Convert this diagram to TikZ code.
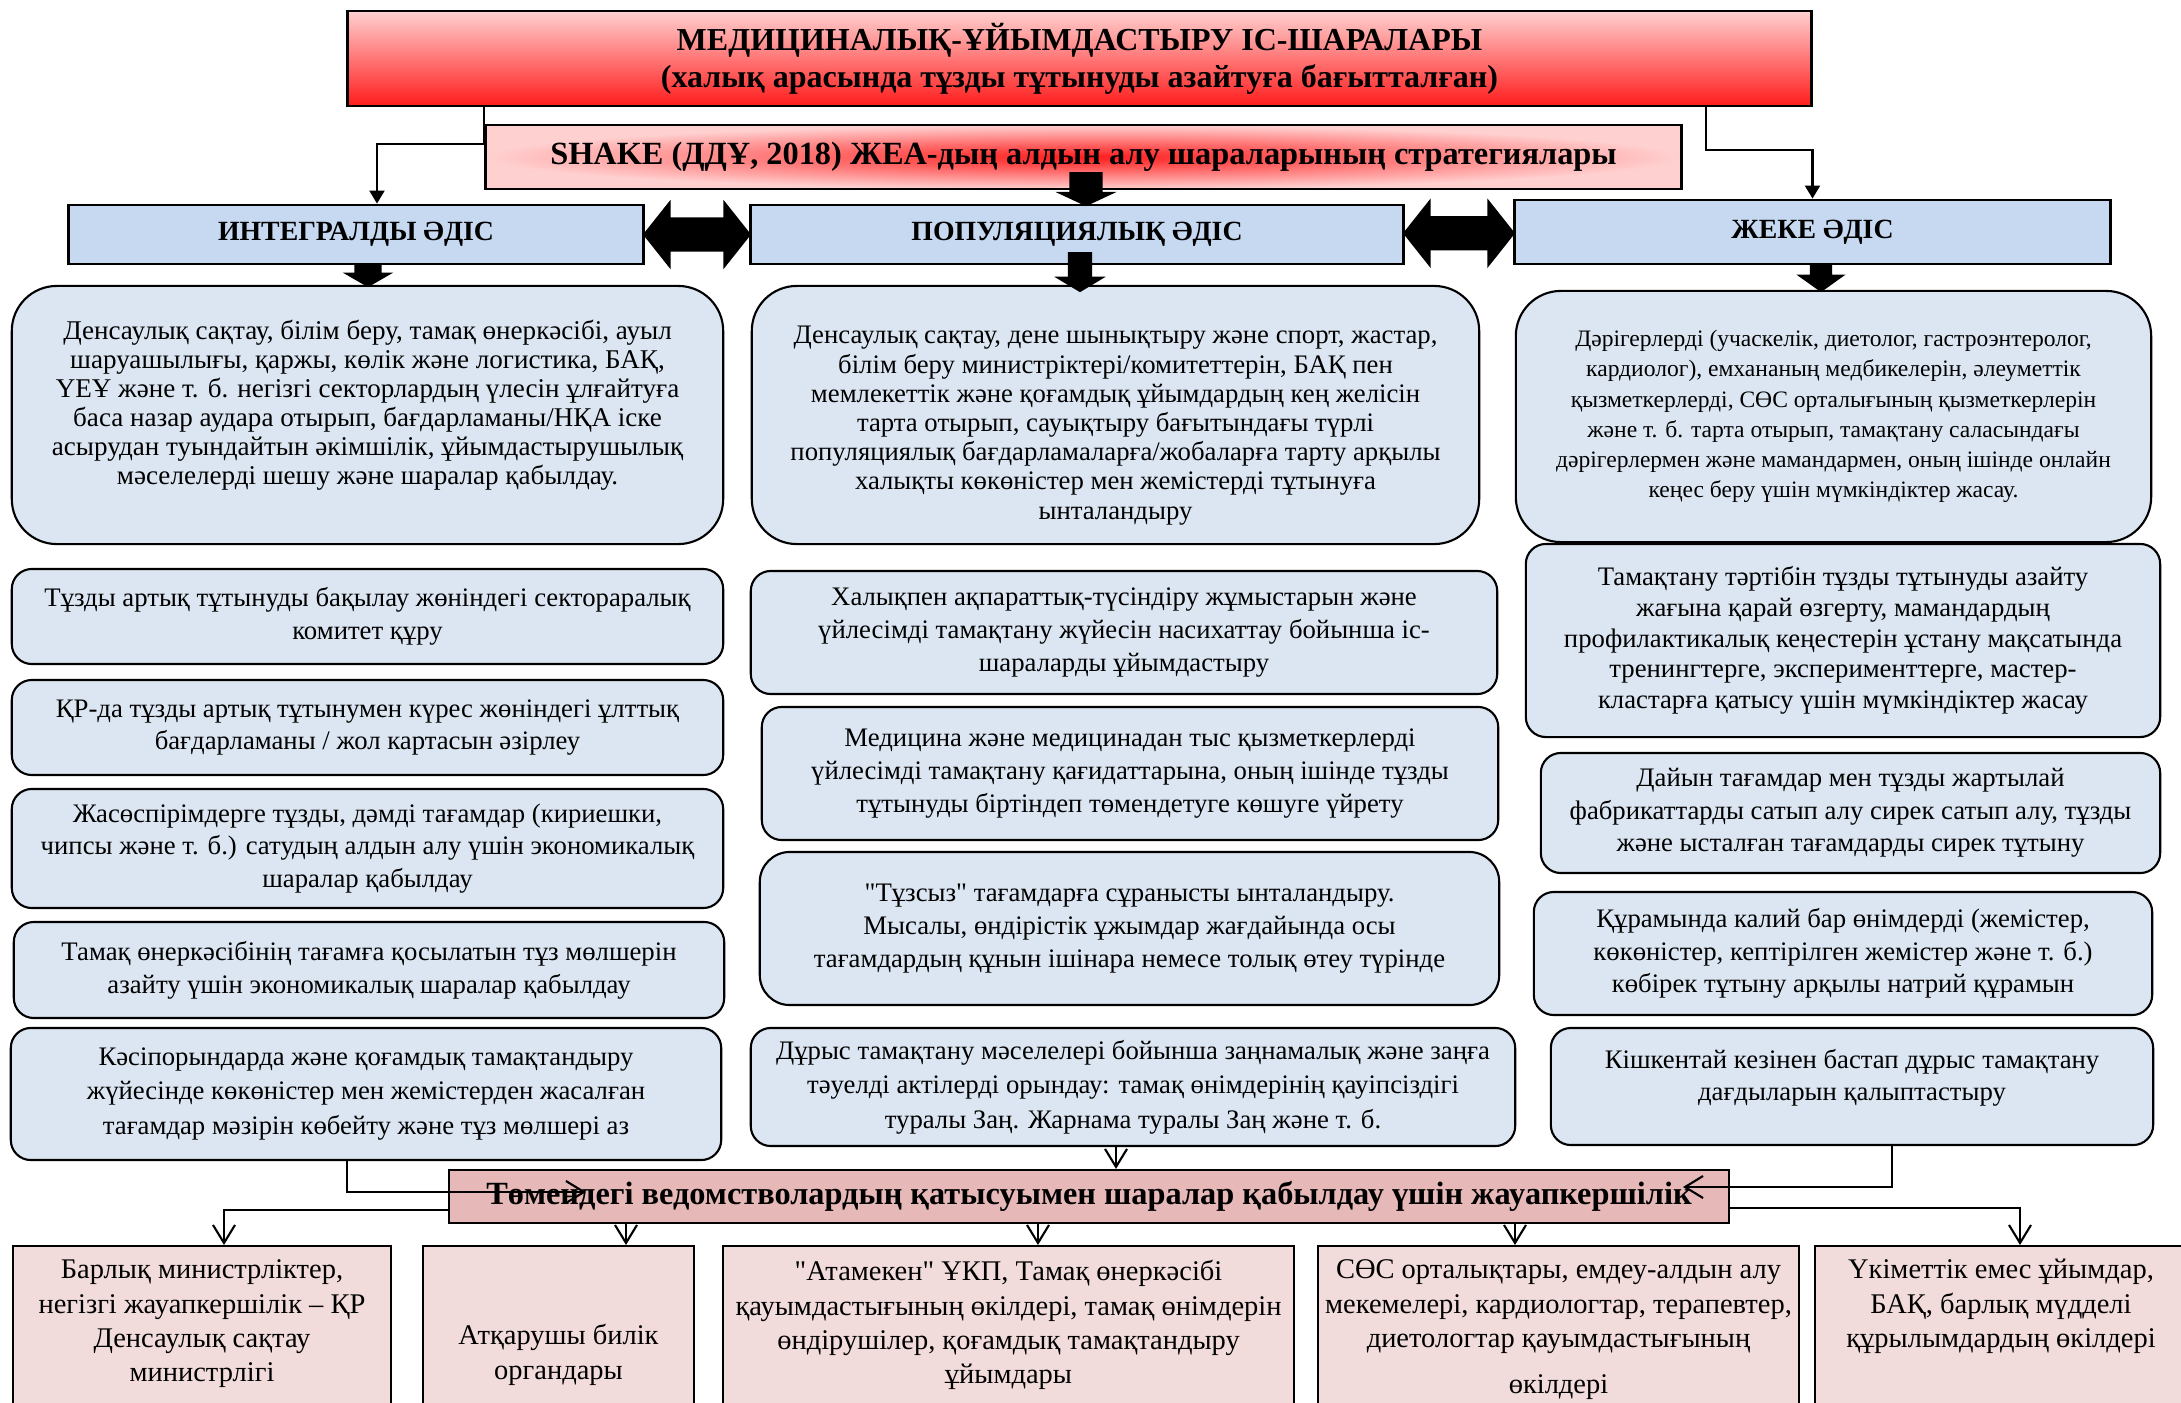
\documentclass[tikz,border=0pt]{standalone}
\usepackage{fontspec}
\setmainfont{Liberation Serif}[Ligatures=TeXOff]
\usepackage{xcolor}
\usepackage{tikz}
\usetikzlibrary{arrows.meta,shapes.arrows,calc}
\definecolor{methodblue}{RGB}{198,217,241}
\definecolor{boxblue}{RGB}{220,230,242}
\definecolor{resppink}{RGB}{230,184,183}
\definecolor{orgpink}{RGB}{242,220,219}
\definecolor{toppink}{RGB}{255,208,208}
\definecolor{topmid}{RGB}{255,165,165}
\definecolor{topred}{RGB}{255,28,28}
% width, height, first baseline, text
\newcommand{\boxtext}[4]{\parbox[t][#2][t]{#1}{\centering\rule{0pt}{#3}#4}}

\begin{document}
\begin{tikzpicture}[x=0.01cm, y=-0.01cm,
  boxsize/.style 2 args={minimum width=#1cm, minimum height=#2cm},
  topbox/.style={draw, line width=0.8pt, top color=toppink, middle color=topmid,
    bottom color=topred, align=center, inner sep=0pt,
    font=\bfseries\fontsize{9.1}{10.5}\selectfont},
  shakebox/.style={draw, line width=0.8pt, inner color=topred, outer color=toppink,
    inner sep=0pt, font=\bfseries\fontsize{9.2}{11}\selectfont},
  methodbox/.style={draw, line width=0.8pt, fill=methodblue, inner sep=0pt,
    font=\bfseries\fontsize{7.9}{9.5}\selectfont},
  infobox/.style={draw, line width=0.6pt, fill=boxblue, rounded corners=0.2cm,
    align=center, inner sep=0pt, font=\fontsize{7.6}{9.3}\selectfont},
  bigbox/.style={infobox, rounded corners=0.45cm},
  respbox/.style={draw, line width=0.6pt, fill=resppink, inner sep=0pt,
    font=\bfseries\fontsize{9.2}{11}\selectfont},
  orgbox/.style={draw, line width=0.5pt, fill=orgpink, anchor=north, inner sep=0pt,
    font=\fontsize{8.1}{9.7}\selectfont},
  link/.style={line width=0.6pt, -{Triangle[length=1.3mm, width=1.5mm]}},
  barb/.style={line width=0.6pt, -{Straight Barb[length=1.8mm, width=2.2mm]}},
  blockdown/.style={single arrow, fill=black, draw=none, rotate=-90, inner xsep=0pt,
    anchor=tip},
  twoway/.style={double arrow, fill=black, draw=none, inner xsep=0pt, inner ysep=0.165cm,
    double arrow head extend=0.175cm, double arrow tip angle=103}
]
  \useasboundingbox (0,0) rectangle (2181,1403);
  \clip (0,0) rectangle (2181,1403);

  % Title and strategy
  \node[topbox, boxsize={14.63}{0.95}] (top) at (1079.5,58.5)
    {МЕДИЦИНАЛЫҚ-ҰЙЫМДАСТЫРУ ІС-ШАРАЛАРЫ\\(халық арасында тұзды тұтынуды азайтуға бағытталған)};
  \node[shakebox, boxsize={11.95}{0.64}] (shake) at (1083.5,157)
    {SHAKE (ДДҰ, 2018) ЖЕА-дың алдын алу шараларының стратегиялары};

  % Methods
  \node[methodbox, boxsize={5.74}{0.59}] (integ) at (356,234.5) {ИНТЕГРАЛДЫ ӘДІС};
  \node[methodbox, boxsize={6.52}{0.59}] (popul) at (1077,234.5) {ПОПУЛЯЦИЯЛЫҚ ӘДІС};
  \node[methodbox, boxsize={5.95}{0.64}] (jeke) at (1812.5,232) {ЖЕКЕ ӘДІС};

  % Main boxes under the methods
  \node[bigbox, boxsize={7.11}{2.58}, font=\fontsize{7.7}{8.2}\selectfont] (L1) at (367.5,415)
    {\boxtext{7.0cm}{2.58cm}{0.54cm}{Денсаулық сақтау, білім беру, тамақ өнеркәсібі, ауыл\\
     шаруашылығы, қаржы, көлік және логистика, БАҚ,\\
     ҮЕҰ және т. б. негізгі секторлардың үлесін ұлғайтуға\\
     баса назар аудара отырып, бағдарламаны/НҚА іске\\
     асырудан туындайтын әкімшілік, ұйымдастырушылық\\
     мәселелерді шешу және шаралар қабылдау.}};
  \node[bigbox, boxsize={7.27}{2.58}, font=\fontsize{7.6}{8.3}\selectfont] (M1) at (1115.5,415)
    {\boxtext{7.1cm}{2.58cm}{0.58cm}{Денсаулық сақтау, дене шынықтыру және спорт, жастар,\\
     білім беру министріктері/комитеттерін, БАҚ пен\\
     мемлекеттік және қоғамдық ұйымдардың кең желісін\\
     тарта отырып, сауықтыру бағытындағы түрлі\\
     популяциялық бағдарламаларға/жобаларға тарту арқылы\\
     халықты көкөністер мен жемістерді тұтынуға\\
     ынталандыру}};
  \node[bigbox, boxsize={6.35}{2.51}, font=\fontsize{6.7}{8.6}\selectfont] (R1) at (1833.5,416.5)
    {Дәрігерлерді (учаскелік, диетолог, гастроэнтеролог,\\
     кардиолог), емхананың медбикелерін, әлеуметтік\\
     қызметкерлерді, СӨС орталығының қызметкерлерін\\
     және т. б. тарта отырып, тамақтану саласындағы\\
     дәрігерлермен және мамандармен, оның ішінде онлайн\\
     кеңес беру үшін мүмкіндіктер жасау.};

  % Integrated measures
  \node[infobox, boxsize={7.11}{0.95}] (L2) at (367.5,616.5)
    {Тұзды артық тұтынуды бақылау жөніндегі сектораралық\\ комитет құру};
  \node[infobox, boxsize={7.11}{0.95}] (L3) at (367.5,727.5)
    {ҚР-да тұзды артық тұтынумен күрес жөніндегі ұлттық\\ бағдарламаны / жол картасын әзірлеу};
  \node[infobox, boxsize={7.11}{1.19}] (L4) at (367.5,848.5)
    {Жасөспірімдерге тұзды, дәмді тағамдар (кириешки,\\ чипсы және т. б.) сатудың алдын алу үшін экономикалық\\ шаралар қабылдау};
  \node[infobox, boxsize={7.10}{0.96}] (L5) at (369,970)
    {Тамақ өнеркәсібінің тағамға қосылатын тұз мөлшерін\\ азайту үшін экономикалық шаралар қабылдау};
  \node[infobox, boxsize={7.10}{1.32}, font=\fontsize{7.6}{9.8}\selectfont] (L6) at (366,1094)
    {Кәсіпорындарда және қоғамдық тамақтандыру\\ жүйесінде көкөністер мен жемістерден жасалған\\ тағамдар мәзірін көбейту және тұз мөлшері аз};

  % Population measures
  \node[infobox, boxsize={7.46}{1.23}] (M2) at (1124,632.5)
    {Халықпен ақпараттық-түсіндіру жұмыстарын және\\ үйлесімді тамақтану жүйесін насихаттау бойынша іс-\\ шараларды ұйымдастыру};
  \node[infobox, boxsize={7.36}{1.33}] (M3) at (1130,773.5)
    {Медицина және медицинадан тыс қызметкерлерді\\ үйлесімді тамақтану қағидаттарына, оның ішінде тұзды\\ тұтынуды біртіндеп төмендетуге көшуге үйрету};
  \node[infobox, boxsize={7.39}{1.53}, rounded corners=0.3cm] (M4) at (1129.5,928.5)
    {"Тұзсыз" тағамдарға сұранысты ынталандыру.\\ Мысалы, өндірістік ұжымдар жағдайында осы\\ тағамдардың құнын ішінара немесе толық өтеу түрінде};
  \node[infobox, boxsize={7.64}{1.18}, font=\fontsize{7.6}{9.8}\selectfont] (M5) at (1133,1087)
    {Дұрыс тамақтану мәселелері бойынша заңнамалық және заңға\\ тәуелді актілерді орындау: тамақ өнімдерінің қауіпсіздігі\\ туралы Заң. Жарнама туралы Заң және т. б.};

  % Individual measures
  \node[infobox, boxsize={6.34}{1.93}, font=\fontsize{7.6}{8.7}\selectfont] (R2) at (1843,640.5)
    {Тамақтану тәртібін тұзды тұтынуды азайту\\ жағына қарай өзгерту, мамандардың\\ профилактикалық кеңестерін ұстану мақсатында\\ тренингтерге, эксперименттерге, мастер-\\ кластарға қатысу үшін мүмкіндіктер жасау};
  \node[infobox, boxsize={6.19}{1.20}] (R3) at (1850.5,813)
    {Дайын тағамдар мен тұзды жартылай\\ фабрикаттарды сатып алу сирек сатып алу, тұзды\\ және ысталған тағамдарды сирек тұтыну};
  \node[infobox, boxsize={6.18}{1.23}] (R4) at (1843,953.5)
    {Құрамында калий бар өнімдерді (жемістер,\\ көкөністер, кептірілген жемістер және т. б.)\\ көбірек тұтыну арқылы натрий құрамын};
  \node[infobox, boxsize={6.02}{1.17}] (R5) at (1852,1086.5)
    {\boxtext{5.9cm}{1.17cm}{0.40cm}{Кішкентай кезінен бастап дұрыс тамақтану\\ дағдыларын қалыптастыру}};

  % Responsibility
  \node[respbox, boxsize={12.80}{0.53}] (resp) at (1089,1196.5)
    {\raisebox{-0.06cm}{Төмендегі ведомстволардың қатысуымен шаралар қабылдау үшін жауапкершілік}};

  \node[orgbox, boxsize={3.78}{1.75}] (B1) at (202,1245)
    {\boxtext{3.6cm}{1.75cm}{0.33cm}{Барлық министрліктер,\\ негізгі жауапкершілік – ҚР\\ Денсаулық сақтау\\ министрлігі}};
  \node[orgbox, boxsize={2.71}{1.75}] (B2) at (558.5,1245)
    {\boxtext{2.6cm}{1.75cm}{0.99cm}{Атқарушы билік\\ органдары}};
  \node[orgbox, boxsize={5.71}{1.75}] (B3) at (1008.5,1245)
    {\boxtext{5.6cm}{1.75cm}{0.35cm}{"Атамекен" ҰКП, Тамақ өнеркәсібі\\ қауымдастығының өкілдері, тамақ өнімдерін\\ өндірушілер, қоғамдық тамақтандыру\\ ұйымдары}};
  \node[orgbox, boxsize={4.81}{1.75}] (B4) at (1558.5,1245)
    {\boxtext{4.7cm}{1.75cm}{0.33cm}{СӨС орталықтары, емдеу-алдын алу\\ мекемелері, кардиологтар, терапевтер,\\ диетологтар қауымдастығының\\[0.12cm] өкілдері}};
  \node[orgbox, boxsize={3.72}{1.75}] (B5) at (2001,1245)
    {\boxtext{3.6cm}{1.75cm}{0.33cm}{Үкіметтік емес ұйымдар,\\ БАҚ, барлық мүдделі\\ құрылымдардың өкілдері}};

  % Connectors
  \coordinate (kL) at (377,144);
  \coordinate (kR) at (1706,150);
  \draw[link] (top.south -| shake.west) |- (kL) -- (kL |- integ.north);
  \draw[link] (top.south -| kR) -- (kR) -| (jeke.north);

  \coordinate (gL6) at (347,1192);
  \coordinate (inL) at (586,1192);
  \coordinate (gR5) at (1892,1187);
  \coordinate (inR) at (1683,1187);
  \coordinate (gM) at (1116,0);
  \draw[barb] (L6.south -| gL6) -- (gL6) -- (inL);
  \draw[barb] (R5.south -| gR5) -- (gR5) -- (inR);
  \draw[barb] (M5.south -| gM) -- (resp.north -| gM);

  \coordinate (gB1) at (224,1210);
  \coordinate (gB2) at (626,0);
  \coordinate (gB3) at (1038,0);
  \coordinate (gB4) at (1515,0);
  \coordinate (gB5) at (2020,1208);
  \draw[barb] (resp.west |- gB1) -| (B1.north -| gB1);
  \draw[barb] (resp.south -| gB2) -- (B2.north -| gB2);
  \draw[barb] (resp.south -| gB3) -- (B3.north -| gB3);
  \draw[barb] (resp.south -| gB4) -- (B4.north -| gB4);
  \draw[barb] (resp.east |- gB5) -| (B5.north -| gB5);

  % Block arrows
  \node[blockdown, minimum height=0.34cm, inner ysep=0.16cm,
    single arrow head extend=0.14cm, single arrow tip angle=130] (sa0) at (1086,207) {};
  \node[blockdown, minimum height=0.24cm, inner ysep=0.13cm,
    single arrow head extend=0.115cm, single arrow tip angle=120] (sa1) at (368,288) {};
  \node[blockdown, minimum height=0.40cm, inner ysep=0.115cm,
    single arrow head extend=0.135cm, single arrow tip angle=118] (sa2) at (1080,293) {};
  \node[blockdown, minimum height=0.29cm, inner ysep=0.105cm,
    single arrow head extend=0.135cm, single arrow tip angle=109] (sa3) at (1821,293) {};
  \node[twoway, minimum height=1.08cm] (da1) at ($(integ.east)!0.5!(popul.west)$) {};
  \node[twoway, minimum height=1.12cm] (da2) at ($(popul.east)!0.5!(jeke.west)$) {};
\end{tikzpicture}
\end{document}
